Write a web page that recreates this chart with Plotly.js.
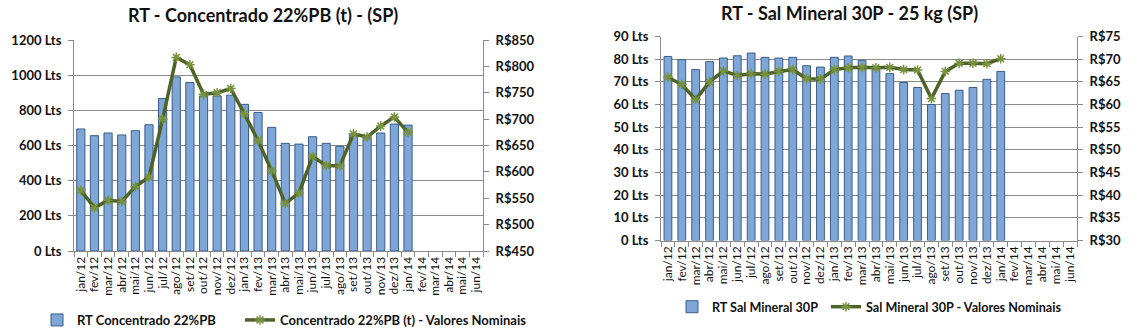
<!DOCTYPE html>
<html><head><meta charset="utf-8">
<script src="https://cdn.plot.ly/plotly-3.0.1.min.js"></script>
<style>html,body{margin:0;padding:0;background:#fff;overflow:hidden}#c{width:1140px;height:345px}</style>
</head><body><div id="c"></div>
<script>
const months = ["jan/12","fev/12","mar/12","abr/12","mai/12","jun/12","jul/12","ago/12","set/12","out/12","nov/12","dez/12",
"jan/13","fev/13","mar/13","abr/13","mai/13","jun/13","jul/13","ago/13","set/13","out/13","nov/13","dez/13",
"jan/14","fev/14","mar/14","abr/14","mai/14","jun/14"];
const dataMonths = months.slice(0, 25);

// Left chart: RT Concentrado 22%PB (Lts) and price R$/t
const concRT = [694,656,671,660,684,718,867,990,958,882,882,886,834,788,703,612,608,650,612,595,665,645,671,722,716];
const concPreco = [565,532,546,544,572,590,700,817,803,747,750,758,710,659,602,540,560,629,612,611,672,666,687,704,675];

// Right chart: RT Sal Mineral 30P (Lts) and price R$/25kg
const salRT = [81.2,79.8,75.4,78.9,80.5,81.5,82.7,80.8,80.5,80.8,77.1,76.5,80.8,81.4,79.5,76.5,73.6,69.7,67.5,60,64.8,66.3,67.5,71.1,74.6];
const salPreco = [66.0,64.4,61.1,65.0,67.4,66.4,66.8,66.7,67.3,67.7,65.7,65.6,67.7,68.1,68.2,68.1,68.2,67.7,67.6,61.3,67.3,69.1,69.1,69.0,70.1];

const W = 1140, H = 345;
const px = v => v / W, py = v => 1 - v / H;

const FONT = "Lato, 'Open Sans', sans-serif";
const barFill = '#7ea7d7', barLine = '#3a5d8c';
const lineCol = '#4f6228', markCol = '#76923c';
const gridCol = '#8a8a8a';

const traces = [
  {type:'bar', x:dataMonths, y:concRT, name:'RT Concentrado 22%PB', xaxis:'x', yaxis:'y',
   width:0.6, marker:{color:barFill, line:{color:barLine, width:1}}, legend:'legend'},
  {type:'scatter', mode:'lines+markers', x:dataMonths, y:concPreco, name:'Concentrado 22%PB (t) - Valores Nominais',
   xaxis:'x', yaxis:'y2', line:{color:lineCol, width:3.5},
   marker:{symbol:'asterisk-open', size:8, color:markCol, line:{color:markCol, width:1.5}}, legend:'legend2'},
  {type:'bar', x:dataMonths, y:salRT, name:'RT Sal Mineral 30P', xaxis:'x2', yaxis:'y3',
   width:0.56, marker:{color:barFill, line:{color:barLine, width:1}}, legend:'legend3'},
  {type:'scatter', mode:'lines+markers', x:dataMonths, y:salPreco, name:'Sal Mineral 30P - Valores Nominais',
   xaxis:'x2', yaxis:'y4', line:{color:lineCol, width:3.5},
   marker:{symbol:'asterisk-open', size:8, color:markCol, line:{color:markCol, width:1.5}}, legend:'legend4'}
];

const xCommon = {type:'category', categoryorder:'array', categoryarray:months, range:[-0.5,29.5],
  tickmode:'linear', tick0:0, dtick:1,
  tickangle:-90, ticks:'outside', tickson:'boundaries', ticklen:5, tickcolor:gridCol,
  showline:true, linecolor:gridCol, linewidth:1, showgrid:false,
  tickfont:{family:FONT, size:12, color:'#111'}, fixedrange:true};
const yLeftCommon = {showgrid:true, gridcolor:gridCol, gridwidth:1, zeroline:false,
  ticks:'outside', ticklen:5, tickcolor:gridCol, showline:true, linecolor:gridCol, ticklabelstandoff:4,
  tickfont:{family:FONT, size:13, color:'#111', weight:'bold'}, ticksuffix:' Lts'};
const yRightCommon = {side:'right', showgrid:false, zeroline:false,
  ticks:'outside', ticklen:5, tickcolor:gridCol, showline:true, linecolor:gridCol, ticklabelstandoff:4,
  tickfont:{family:FONT, size:13, color:'#111', weight:'bold'}, tickprefix:'R$'};

const leg = (x,y,s) => ({x:x, y:y, xanchor:'left', yanchor:'middle', orientation:'h', bgcolor:'rgba(0,0,0,0)',
  font:{family:FONT, size:s, color:'#111', weight:'bold'}, itemwidth:30, traceorder:'normal'});

const layout = {
  width:W, height:H, margin:{l:0,r:0,t:0,b:0}, paper_bgcolor:'#fff', plot_bgcolor:'#fff',
  showlegend:true,
  xaxis:Object.assign({}, xCommon, {domain:[px(74),px(483)], anchor:'y'}),
  yaxis:Object.assign({}, yLeftCommon, {domain:[py(251),py(40)], range:[0,1200], dtick:200, anchor:'x'}),
  yaxis2:Object.assign({}, yRightCommon, {overlaying:'y', anchor:'x', range:[450,850], dtick:50}),
  xaxis2:Object.assign({}, xCommon, {domain:[px(661),px(1077)], anchor:'y3'}),
  yaxis3:Object.assign({}, yLeftCommon, {domain:[py(240.5),py(36.5)], range:[0,90], dtick:10, anchor:'x2'}),
  yaxis4:Object.assign({}, yRightCommon, {overlaying:'y3', anchor:'x2', range:[30,75], dtick:5}),
  legend: leg(px(37), py(320), 13),
  legend2: leg(px(240), py(320), 13),
  legend3: leg(px(672), py(307), 12.6),
  legend4: leg(px(826), py(307), 12.6),
  annotations:[
    {text:'RT - Concentrado 22%PB (t) - (SP)', xref:'paper', yref:'paper', x:px(263), y:py(15),
     xanchor:'center', yanchor:'middle', showarrow:false, font:{family:FONT, size:18, color:'#111', weight:'bold'}},
    {text:'RT - Sal Mineral 30P - 25 kg (SP)', xref:'paper', yref:'paper', x:px(849), y:py(13),
     xanchor:'center', yanchor:'middle', showarrow:false, font:{family:FONT, size:18, color:'#111', weight:'bold'}}
  ]
};
Plotly.newPlot('c', traces, layout, {staticPlot:true, displayModeBar:false});
</script></body></html>
